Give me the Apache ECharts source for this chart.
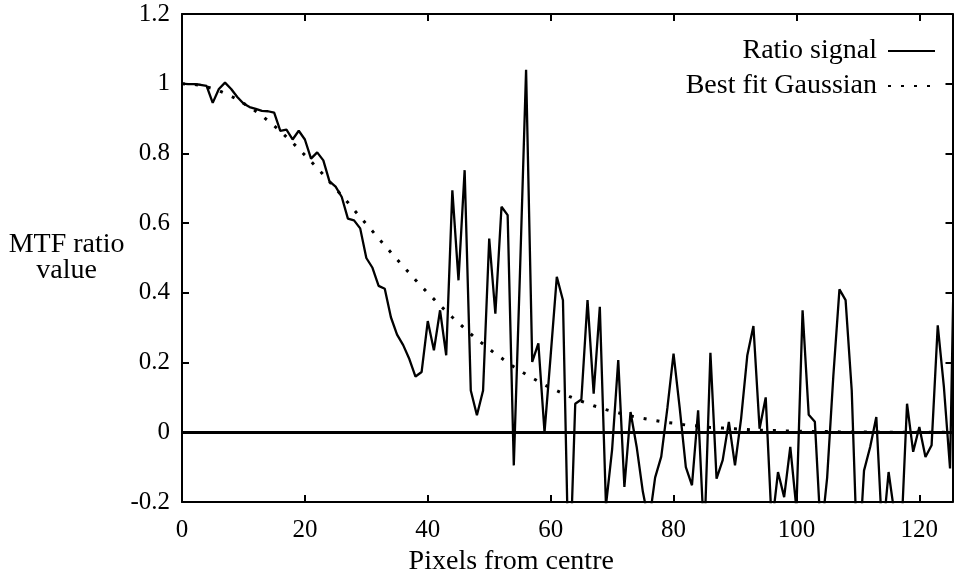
<!DOCTYPE html>
<html><head><meta charset="utf-8">
<script src="https://cdn.jsdelivr.net/npm/echarts@6/dist/echarts.min.js"></script>
<style>html,body{margin:0;padding:0;background:#fff}#c{width:954px;height:575px}</style>
</head><body><div id="c"></div>
<script>
// x values are the array index: pixels from centre (0,1,2,...)
const ratioSignal = [
 1.000, 0.999, 0.999, 0.997, 0.994, 0.945, 0.985, 1.003, 0.985, 0.962,
 0.943, 0.933, 0.928, 0.922, 0.921, 0.917, 0.865, 0.868, 0.840, 0.865,
 0.840, 0.785, 0.803, 0.780, 0.720, 0.705, 0.675, 0.613, 0.608, 0.585,
 0.500, 0.472, 0.420, 0.412, 0.330, 0.280, 0.250, 0.210, 0.160, 0.173,
 0.319, 0.235, 0.350, 0.221, 0.694, 0.436, 0.752, 0.120, 0.049, 0.120,
 0.556, 0.340, 0.647, 0.623, -0.095, 0.455, 1.040, 0.202, 0.255, 0.000,
 0.220, 0.446, 0.379, -0.460, 0.082, 0.094, 0.379, 0.111, 0.360, -0.210,
 -0.050, 0.207, -0.157, 0.058, -0.042, -0.170, -0.260, -0.130, -0.070, 0.070,
 0.226, 0.070, -0.100, -0.152, 0.063, -0.310, 0.228, -0.133, -0.080, 0.030,
 -0.095, 0.040, 0.220, 0.305, 0.010, 0.100, -0.270, -0.114, -0.186, -0.042,
 -0.220, 0.350, 0.050, 0.030, -0.300, -0.130, 0.160, 0.410, 0.379, 0.120,
 -0.410, -0.110, -0.042, 0.044, -0.305, -0.114, -0.240, -0.320, 0.082, -0.056,
 0.015, -0.071, -0.037, 0.307, 0.130, -0.104, 0.850
];
const bestFitGaussian = [
 1.000, 0.999, 0.998, 0.995, 0.991, 0.986, 0.980, 0.972, 0.964, 0.955,
 0.944, 0.933, 0.921, 0.908, 0.894, 0.879, 0.864, 0.847, 0.831, 0.813,
 0.795, 0.777, 0.758, 0.739, 0.719, 0.699, 0.679, 0.659, 0.638, 0.618,
 0.597, 0.577, 0.556, 0.536, 0.516, 0.496, 0.476, 0.457, 0.437, 0.418,
 0.400, 0.382, 0.364, 0.347, 0.330, 0.314, 0.298, 0.282, 0.267, 0.253,
 0.239, 0.225, 0.213, 0.200, 0.188, 0.177, 0.166, 0.156, 0.146, 0.136,
 0.127, 0.119, 0.111, 0.103, 0.096, 0.089, 0.083, 0.076, 0.071, 0.065,
 0.060, 0.056, 0.051, 0.047, 0.043, 0.040, 0.037, 0.034, 0.031, 0.028,
 0.026, 0.023, 0.021, 0.019, 0.018, 0.016, 0.014, 0.013, 0.012, 0.011,
 0.010, 0.009, 0.008, 0.007, 0.006, 0.006, 0.005, 0.005, 0.004, 0.004,
 0.003, 0.003, 0.003, 0.002, 0.002, 0.002, 0.002, 0.001, 0.001, 0.001,
 0.001, 0.001, 0.001, 0.001, 0.000, 0.000, 0.000, 0.000, 0.000, 0.000,
 0.000, 0.000, 0.000, 0.000, 0.000, 0.000, 0.000
];
const seriesNames = ['Ratio signal', 'Best fit Gaussian'];
const xAxisTitle = 'Pixels from centre';
const yAxisTitle = 'MTF ratio\nvalue';

const FONT = 'Liberation Serif';
const FS = 25;      // tick labels
const FS_T = 28;    // titles and legend
const toPairs = arr => arr.map((v, i) => [i, v]);

const baseAxisLine = {show: true, onZero: false, lineStyle: {color: '#000', width: 2}};
const baseTick = {show: true, inside: true, length: 7, lineStyle: {color: '#000', width: 2}};
const labelStyle = {fontFamily: FONT, fontSize: FS, color: '#000'};
const titleStyle = {fontFamily: FONT, fontSize: FS_T, color: '#000'};

const chart = echarts.init(document.getElementById('c'), null, {renderer: 'canvas'});
chart.setOption({
  animation: false,
  backgroundColor: '#fff',
  grid: {left: 182, right: 1.5, top: 14, bottom: 73, containLabel: false, outerBoundsMode: 'none'},
  legend: {
    orient: 'vertical', right: 13, top: 32, align: 'right',
    itemWidth: 47, itemHeight: 14, itemGap: 7,
    itemStyle: {opacity: 0, borderWidth: 0},
    textStyle: Object.assign({padding: [0, 6, 0, 0]}, titleStyle),
    data: seriesNames
  },
  xAxis: [
    {type: 'value', min: 0, max: 125.4, interval: 20, position: 'bottom',
     axisLine: baseAxisLine, axisTick: baseTick, splitLine: {show: false},
     axisLabel: Object.assign({margin: 16, showMaxLabel: false}, labelStyle),
     name: xAxisTitle, nameLocation: 'middle', nameGap: 42,
     nameTextStyle: Object.assign({padding: [0, 112, 0, 0]}, titleStyle)},
    {type: 'value', min: 0, max: 125.4, interval: 20, position: 'top',
     axisLine: baseAxisLine, axisTick: baseTick, splitLine: {show: false},
     axisLabel: {show: false}}
  ],
  yAxis: [
    {type: 'value', min: -0.2, max: 1.2, interval: 0.2, position: 'left',
     axisLine: baseAxisLine, axisTick: baseTick, splitLine: {show: false},
     axisLabel: Object.assign({margin: 12}, labelStyle),
     name: yAxisTitle, nameLocation: 'middle', nameGap: 111, nameRotate: 0,
     nameTextStyle: Object.assign({align: 'center', verticalAlign: 'middle', lineHeight: 26}, titleStyle)},
    {type: 'value', min: -0.2, max: 1.2, interval: 0.2, position: 'right',
     axisLine: baseAxisLine, axisTick: baseTick, splitLine: {show: false},
     axisLabel: {show: false}}
  ],
  series: [
    {type: 'line', name: seriesNames[0], data: toPairs(ratioSignal),
     symbol: 'none', showSymbol: false, clip: true,
     lineStyle: {color: '#000', width: 2.3}, itemStyle: {color: '#000'},
     markLine: {silent: true, symbol: 'none', label: {show: false},
       lineStyle: {color: '#000', width: 3, type: 'solid'},
       emphasis: {disabled: true}, data: [{yAxis: 0}]}},
    {type: 'line', name: seriesNames[1], data: toPairs(bestFitGaussian),
     symbol: 'none', showSymbol: false, clip: true,
     lineStyle: {color: '#000', width: 3, type: [3, 10], cap: 'butt'},
     itemStyle: {color: '#000'}}
  ]
});
</script>
</body></html>
